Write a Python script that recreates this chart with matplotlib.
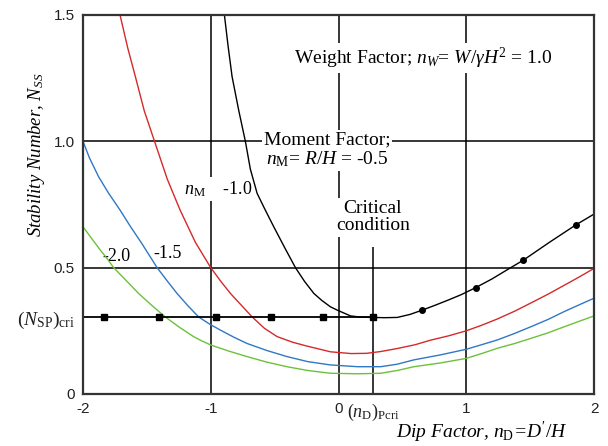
import matplotlib
matplotlib.use("Agg")
import matplotlib.pyplot as plt

plt.rcParams['mathtext.fontset'] = 'custom'
plt.rcParams['mathtext.rm'] = 'Liberation Serif'
plt.rcParams['mathtext.it'] = 'Liberation Serif:italic'
plt.rcParams['mathtext.bf'] = 'Liberation Serif:bold'

# curves, one per moment factor n_M
x_m05 = [-0.893, -0.865, -0.833, -0.78, -0.729, -0.69, -0.637, -0.58, -0.507, -0.42, -0.337, -0.265,
         -0.193, -0.13, -0.063, -0.01, 0.094, 0.18, 0.27, 0.36, 0.46, 0.56, 0.656, 0.76, 0.86,
         0.96, 1.074, 1.2, 1.348, 1.448, 1.65, 1.857, 2.0]
y_m05 = [1.50, 1.38, 1.256, 1.12, 1.00, 0.89, 0.794, 0.735, 0.662, 0.578, 0.50, 0.445,
         0.398, 0.37, 0.345, 0.332, 0.309, 0.304, 0.303, 0.302, 0.303, 0.315, 0.332, 0.352, 0.372,
         0.393, 0.421, 0.455, 0.50, 0.53, 0.60, 0.669, 0.712]

x_m10 = [-1.71, -1.65, -1.59, -1.52, -1.44, -1.34, -1.24, -1.12, -1.00, -0.92, -0.846, -0.676,
         -0.58, -0.48, -0.36, -0.25, -0.063, 0.10, 0.22, 0.33, 0.46, 0.6, 0.72, 0.86, 1.00,
         1.12, 1.244, 1.38, 1.505, 1.64, 1.766, 1.88, 2.00]
y_m10 = [1.50, 1.37, 1.256, 1.12, 1.00, 0.85, 0.728, 0.60, 0.50, 0.445, 0.398, 0.305,
         0.26, 0.227, 0.205, 0.19, 0.167, 0.160, 0.161, 0.168, 0.18, 0.195, 0.213, 0.23, 0.250,
         0.272, 0.297, 0.328, 0.36, 0.395, 0.43, 0.462, 0.497]

x_m15 = [-2.0, -1.95, -1.878, -1.80, -1.71, -1.625, -1.54, -1.48, -1.42, -1.34, -1.264, -1.18,
         -1.095, -1.01, -0.925, -0.82, -0.716, -0.56, -0.403, -0.24, -0.063, 0.15, 0.33, 0.46,
         0.59, 0.8, 1.0, 1.12, 1.244, 1.38, 1.505, 1.64, 1.766, 1.88, 2.0]
y_m15 = [1.0, 0.935, 0.86, 0.795, 0.728, 0.66, 0.596, 0.548, 0.50, 0.447, 0.398, 0.35,
         0.305, 0.277, 0.253, 0.225, 0.20, 0.172, 0.148, 0.128, 0.115, 0.108, 0.108, 0.118,
         0.135, 0.155, 0.177, 0.195, 0.214, 0.24, 0.266, 0.295, 0.326, 0.352, 0.379]

x_m20 = [-2.0, -1.93, -1.865, -1.81, -1.76, -1.66, -1.565, -1.46, -1.356, -1.245, -1.134, -1.07,
         -1.0, -0.86, -0.716, -0.56, -0.403, -0.24, -0.063, 0.15, 0.33, 0.46, 0.59, 0.8, 1.0,
         1.12, 1.244, 1.38, 1.505, 1.64, 1.766, 1.88, 2.0]
y_m20 = [0.662, 0.614, 0.57, 0.535, 0.50, 0.448, 0.398, 0.35, 0.305, 0.264, 0.227, 0.21,
         0.194, 0.17, 0.148, 0.126, 0.108, 0.093, 0.082, 0.080, 0.082, 0.093, 0.108, 0.123, 0.141,
         0.16, 0.181, 0.2, 0.22, 0.242, 0.266, 0.287, 0.309]

# critical condition
nd_cri = 0.27
nsp_cri = 0.305
line_pts_x = [-1.834, -1.403, -0.956, -0.527, -0.12, 0.27]
curve_pts_x = [0.656, 1.074, 1.448, 1.857]
curve_pts_y = [0.332, 0.421, 0.53, 0.669]

xticks = [-2, -1, 0, nd_cri, 1, 2]
xtick_labels = ["-2", "-1", "0", r"$(n_{\rm D})_{\rm Pcri}$", "1", "2"]
yticks = [0, nsp_cri, 0.5, 1.0, 1.5]
ytick_labels = ["0", r"$(N_{\rm SP})_{\rm cri}$", "0.5", "1.0", "1.5"]

serif = 'Liberation Serif'
sans = 'Liberation Sans'
box = dict(facecolor='white', edgecolor='none', pad=1.5)

fig = plt.figure(figsize=(6.08, 4.46), dpi=100)
ax = fig.add_axes([0.1365, 0.1166, 0.8405, 0.8498])
ax.set_xlim(-2, 2)
ax.set_ylim(0, 1.5)

for gx in [-1, 0, 1]:
    ax.axvline(gx, color='black', lw=1.1, zorder=1)
for gy in [0.5, 1.0]:
    ax.axhline(gy, color='black', lw=1.1, zorder=1)
ax.vlines(nd_cri, 0, 0.58, color='black', lw=1.1, zorder=1)

ax.plot(x_m20, y_m20, color='#6cc13a', lw=1.0, zorder=2)
ax.plot(x_m15, y_m15, color='#2f78c4', lw=1.0, zorder=2)
ax.plot(x_m10, y_m10, color='#d42a2a', lw=1.0, zorder=2)
ax.plot(x_m05, y_m05, color='black', lw=1.0, zorder=2)

ax.plot([-2, nd_cri], [nsp_cri, nsp_cri], color='black', lw=1.3, zorder=2)
ax.plot(line_pts_x, [nsp_cri] * len(line_pts_x), 's', color='black', ms=4, zorder=3)
ax.plot(curve_pts_x, curve_pts_y, 'o', color='black', ms=4, zorder=3)

for s in ax.spines.values():
    s.set_linewidth(1.6)
    s.set_color('#333333')

ax.set_xticks(xticks)
ax.set_xticklabels(xtick_labels)
ax.set_yticks(yticks)
ax.set_yticklabels(ytick_labels)
ax.tick_params(length=0)
ax.tick_params(axis='x', pad=6)
ax.tick_params(axis='y', pad=6)
for lab in ax.get_xticklabels() + ax.get_yticklabels():
    lab.set_family(sans)
    lab.set_fontsize(11)
    lab.set_color('#222222')
ax.get_xticklabels()[3].set_fontsize(13)
ax.get_yticklabels()[1].set_fontsize(14)

# labels sit between the grid lines (zorder 1) and the curves (zorder 2)
ax.text(0.66, 1.33, r"Weight Factor; $n_W$= $W/\gamma H^2$ = 1.0", family=serif, fontsize=14,
        ha='center', va='center', bbox=box, zorder=1.5)
ax.text(-0.09, 0.966, "Moment Factor;\n" + r"$n_{\rm M}$= $R/H$ = -0.5", family=serif, fontsize=14,
        ha='center', va='center', multialignment='center', linespacing=1.05, bbox=box, zorder=1.5)
ax.text(nd_cri, 0.70, "Critical\ncondition", family=serif, fontsize=14,
        ha='center', va='center', linespacing=1.05, bbox=box, zorder=1.5)
ax.text(-0.94, 0.81, r"$n_{\rm M}$    -1.0", family=serif, fontsize=13,
        ha='center', va='center', bbox=box, zorder=1.5)
ax.text(-1.735, 0.543, "-2.0", family=serif, fontsize=13, ha='center', va='center', bbox=box, zorder=1.5)
ax.text(-1.34, 0.558, "-1.5", family=serif, fontsize=13, ha='center', va='center', bbox=box, zorder=1.5)

ax.text(-0.09, 0.63, r"Stability Number, $N_{SS}$", family=serif, fontstyle='italic', fontsize=13.5,
        rotation=90, ha='center', va='center', transform=ax.transAxes)
ax.text(0.78, -0.101, r"Dip Factor, $n_{\rm D}$=$D'/H$", family=serif, fontstyle='italic', fontsize=14,
        ha='center', va='center', transform=ax.transAxes)

fig.savefig("out.png", dpi=100)
